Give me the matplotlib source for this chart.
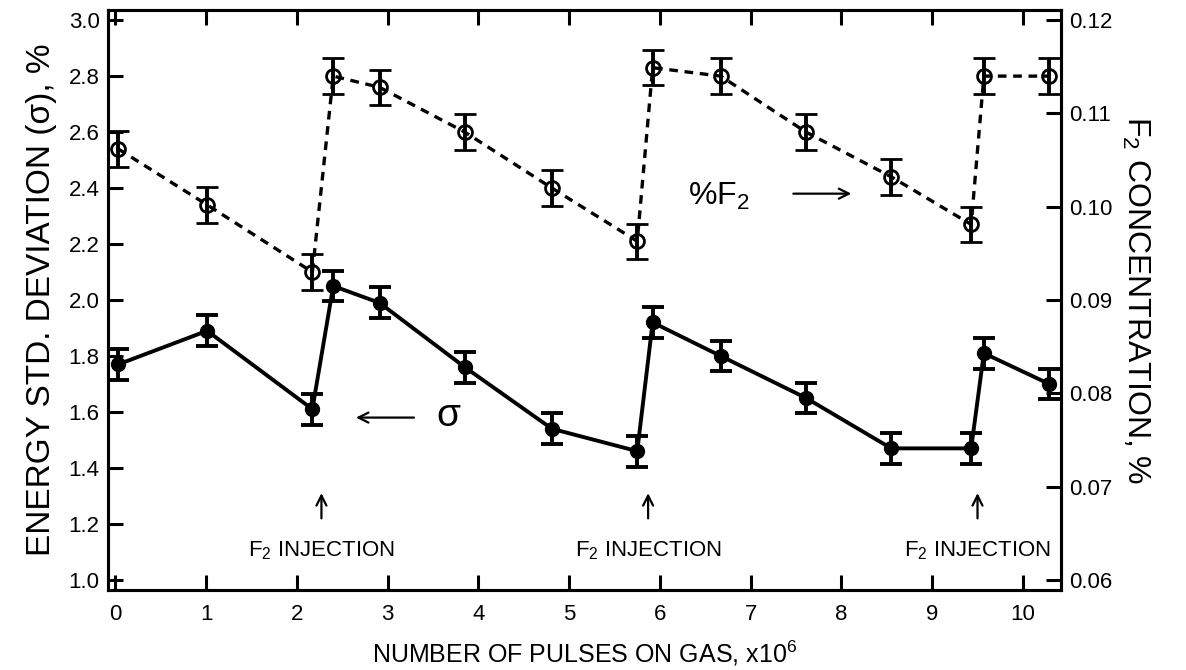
import numpy as np
import matplotlib
matplotlib.use("Agg")
import matplotlib.pyplot as plt

plt.rcParams['font.family'] = ['Liberation Sans', 'DejaVu Sans']
plt.rcParams['mathtext.default'] = 'regular'

# pulses on gas (x10^6)
pulses = [0.03, 1.01, 2.17, 2.40, 2.91, 3.85, 4.81, 5.75, 5.92, 6.67, 7.61, 8.55, 9.43, 9.57, 10.29]
# energy std. deviation sigma, %
sigma = [1.77, 1.89, 1.61, 2.05, 1.99, 1.76, 1.54, 1.46, 1.92, 1.80, 1.65, 1.47, 1.47, 1.81, 1.70]
sigma_err = 0.055
# F2 concentration, %
f2_conc = [0.1062, 0.1002, 0.0930, 0.1140, 0.1128, 0.1080, 0.1020, 0.0963,
           0.1149, 0.1140, 0.1080, 0.1032, 0.0981, 0.1140, 0.1140]
f2_err = 0.0019
injection_x = [2.27, 5.87, 9.50]

fig = plt.figure(figsize=(11.86, 6.70), dpi=100)
ax = fig.add_axes([0.091, 0.1194, 0.8036, 0.8656])
ax2 = ax.twinx()

ax.set_xlim(-0.083, 10.42)
ax.set_ylim(0.964, 3.036)
ax2.set_ylim(0.06 + (0.964 - 1) * 0.03, 0.06 + (3.036 - 1) * 0.03)

# sigma, filled circles, solid line
ax.errorbar(pulses, sigma, yerr=sigma_err, fmt='-o', color='black', lw=2.8,
            ms=10, elinewidth=2.8, capsize=8, capthick=2.8, zorder=3)

# F2 concentration, open circles, dotted line
ax2.plot(pulses, f2_conc, color='black', lw=2.4, dashes=(2.6, 2.0), zorder=2)
ax2.errorbar(pulses, f2_conc, yerr=f2_err, fmt='o', color='black', mfc='none',
             mew=2, ms=10, elinewidth=2.8, capsize=8, capthick=2.8, zorder=3)

# annotations
for xi in injection_x:
    ax.annotate('', xy=(xi, 1.32), xytext=(xi, 1.21),
                arrowprops=dict(arrowstyle='->', lw=1.6, color='black',
                                mutation_scale=18))
    ax.text(xi, 1.105, 'F$_2$ INJECTION', ha='center', va='center', fontsize=16)

ax.annotate('', xy=(2.62, 1.58), xytext=(3.32, 1.58),
            arrowprops=dict(arrowstyle='->', lw=1.6, color='black', mutation_scale=18))
ax.text(3.67, 1.585, 'σ', ha='center', va='center', fontsize=28)

ax.text(6.65, 2.37, '%F$_2$', ha='center', va='center', fontsize=23)
ax.annotate('', xy=(8.14, 2.38), xytext=(7.44, 2.38),
            arrowprops=dict(arrowstyle='->', lw=1.6, color='black', mutation_scale=18))

# axes styling
ax.set_xticks(range(0, 11))
ax.set_yticks(np.arange(1.0, 3.01, 0.2))
ax.yaxis.set_major_formatter(matplotlib.ticker.FormatStrFormatter('%.1f'))
ax2.set_yticks(np.arange(0.06, 0.1201, 0.01))
ax2.yaxis.set_major_formatter(matplotlib.ticker.FormatStrFormatter('%.2f'))

ax.tick_params(axis='x', direction='in', top=True, length=11, width=2.2,
               labelsize=16, pad=10)
ax.tick_params(axis='y', direction='in', left=True, right=False, length=11,
               width=2.2, labelsize=16, pad=6)
ax2.tick_params(axis='y', direction='in', length=11, width=2.2, labelsize=16, pad=6)

for a in (ax, ax2):
    for sp in a.spines.values():
        sp.set_linewidth(2.2)

ax.set_xlabel('NUMBER OF PULSES ON GAS, x10$^6$', fontsize=18, labelpad=10)
ax.set_ylabel('ENERGY STD. DEVIATION (σ), %', fontsize=24, labelpad=8)
ax2.set_ylabel('F$_2$ CONCENTRATION, %', fontsize=23, rotation=270, labelpad=28)

fig.savefig('out.png', dpi=100)
